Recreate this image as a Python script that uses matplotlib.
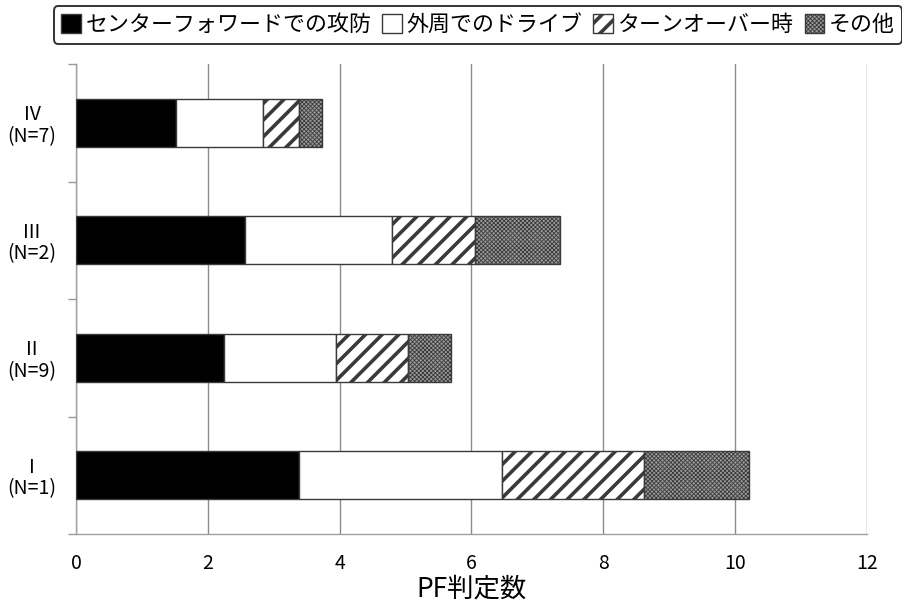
import matplotlib
matplotlib.use("Agg")
import matplotlib.pyplot as plt
import numpy as np

plt.rcParams['font.family'] = ['Noto Sans CJK JP', 'DejaVu Sans']

# Groups, bottom to top
groups = ["I\n(N=1)", "II\n(N=9)", "III\n(N=2)", "IV\n(N=7)"]

# Mean PF calls per situation
center_forward = [3.39, 2.24, 2.57, 1.52]
perimeter_drive = [3.08, 1.70, 2.22, 1.31]
turnover = [2.14, 1.10, 1.27, 0.56]
other = [1.60, 0.65, 1.28, 0.34]

series_names = ["センターフォワードでの攻防", "外周でのドライブ", "ターンオーバー時", "その他"]
series_values = [center_forward, perimeter_drive, turnover, other]
styles = [
    dict(facecolor="black", hatch=None, hlw=1.0),
    dict(facecolor="white", hatch=None, hlw=1.0),
    dict(facecolor="white", hatch="//", hlw=2.6),
    dict(facecolor="#9a9a9a", hatch="xxxxxxxx", hlw=0.6),
]

fig = plt.figure(figsize=(9.02, 6.10), dpi=100)
ax = fig.add_axes([76/902, 1-534/610, (867-76)/902, (534-64)/610])

y = np.arange(len(groups))
left = np.zeros(len(groups))
handles = []
for name, vals, st in zip(series_names, series_values, styles):
    vals = np.array(vals)
    bars = ax.barh(y, vals, left=left, height=0.41, facecolor=st["facecolor"],
                   edgecolor="#3a3a3a", linewidth=1.0, hatch=st["hatch"],
                   label=name, zorder=3)
    for b in bars:
        b.set_hatch_linewidth(st["hlw"])
    handles.append(bars)
    left += vals

ax.set_xlim(0, 12)
ax.set_ylim(-0.5, 3.5)
ax.set_xticks(np.arange(0, 13, 2))
ax.set_yticks(y)
ax.set_yticklabels(groups, fontsize=14, multialignment="center", linespacing=1.05)
ax.set_yticks(np.arange(-0.5, 4.0, 1.0), minor=True)
ax.tick_params(axis="y", which="major", length=0, pad=14)
ax.tick_params(axis="y", which="minor", length=6, color="#999999", width=1)
ax.tick_params(axis="x", length=0, pad=14, labelsize=14)

ax.grid(axis="x", color="#8c8c8c", linewidth=1.0, zorder=0)
for s in ["top", "right"]:
    ax.spines[s].set_visible(False)
for s in ["left", "bottom"]:
    ax.spines[s].set_color("#a0a0a0")
    ax.spines[s].set_linewidth(1.0)

ax.set_xlabel("PF判定数", fontsize=19, labelpad=1)

leg = fig.legend(handles=handles, labels=series_names, loc="center",
                 bbox_to_anchor=(478/902, 1-25/610), ncol=4, fontsize=15.8,
                 handlelength=0.9, handleheight=0.9, handletextpad=0.2,
                 columnspacing=0.5, frameon=True, fancybox=True,
                 borderpad=0.35, edgecolor="black")
leg.get_frame().set_linewidth(1.4)
for h, st in zip(leg.legend_handles, styles):
    h.set_hatch_linewidth(st["hlw"])

fig.savefig("out.png", dpi=100)
